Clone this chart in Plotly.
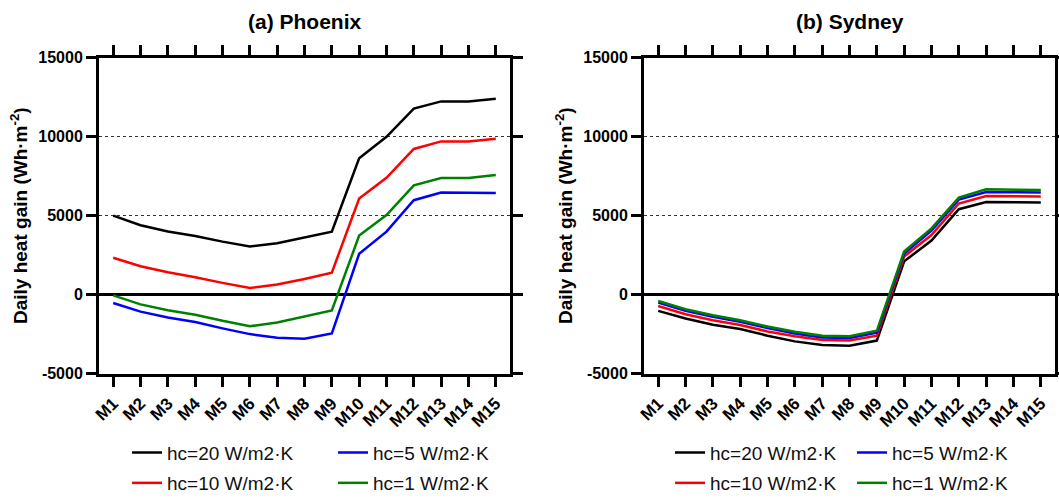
import plotly.graph_objects as go

W, H = 1059, 502

months = ["M1", "M2", "M3", "M4", "M5", "M6", "M7", "M8", "M9", "M10", "M11", "M12", "M13", "M14", "M15"]

series_names = ["hc=20 W/m2·K", "hc=10 W/m2·K", "hc=5 W/m2·K", "hc=1 W/m2·K"]
series_colors = ["#000000", "#ff0000", "#0000ff", "#008000"]

phoenix_hc20 = [5000, 4400, 4000, 3720, 3360, 3050, 3260, 3620, 3990, 8630, 9990, 11770, 12230, 12230, 12390]
phoenix_hc10 = [2340, 1800, 1420, 1110, 750, 420, 650, 1000, 1400, 6080, 7400, 9220, 9700, 9700, 9860]
phoenix_hc5 = [-520, -1070, -1440, -1730, -2130, -2490, -2720, -2780, -2450, 2590, 3990, 5980, 6460, 6460, 6440]
phoenix_hc1 = [-40, -610, -980, -1270, -1650, -1990, -1760, -1400, -1000, 3740, 5040, 6920, 7380, 7380, 7570]

sydney_hc20 = [-1020, -1500, -1900, -2170, -2590, -2950, -3180, -3220, -2900, 2110, 3430, 5410, 5870, 5870, 5830]
sydney_hc10 = [-710, -1230, -1610, -1920, -2320, -2630, -2860, -2900, -2590, 2420, 3780, 5770, 6250, 6250, 6210]
sydney_hc5 = [-500, -1020, -1400, -1710, -2110, -2450, -2700, -2740, -2400, 2610, 4050, 6020, 6500, 6500, 6460]
sydney_hc1 = [-400, -920, -1300, -1610, -2010, -2340, -2590, -2630, -2280, 2740, 4200, 6140, 6670, 6670, 6630]

y_tickvals = [-5000, 0, 5000, 10000, 15000]
y_ticktext = ["-5000", "0", "5000", "10000", "15000"]

panel_titles = ["<b>(a) Phoenix</b>", "<b>(b) Sydney</b>"]
y_title = "<b>Daily heat gain (Wh·m<sup>-2</sup>)</b>"

FONT = "Liberation Sans, Arial, sans-serif"

phoenix = [phoenix_hc20, phoenix_hc10, phoenix_hc5, phoenix_hc1]
sydney = [sydney_hc20, sydney_hc10, sydney_hc5, sydney_hc1]

# layout geometry (pixels)
panels_px = [(99, 510), (644, 1055)]
top_px, bot_px = 58.3, 378.3

fig = go.Figure()

# legend placement: (panel, series) -> (text start x px, y center px)
leg_pos = {
    (0, 0): (167, 458), (0, 2): (373, 458), (0, 1): (167, 489), (0, 3): (373, 489),
    (1, 0): (710, 458), (1, 2): (892, 458), (1, 1): (710, 489), (1, 3): (892, 489),
}

layout_legends = {}
k = 0
for p, data in enumerate([phoenix, sydney]):
    xa = "x" if p == 0 else "x2"
    ya = "y" if p == 0 else "y2"
    for s in range(4):
        k += 1
        lname = "legend" if k == 1 else f"legend{k}"
        fig.add_trace(go.Scatter(
            x=months, y=data[s], mode="lines", name=series_names[s],
            line=dict(color=series_colors[s], width=2.5),
            xaxis=xa, yaxis=ya, legend=lname, showlegend=True,
        ))
        tx, ty = leg_pos[(p, s)]
        layout_legends[lname] = dict(
            x=(tx - 40) / W, y=1 - ty / H, xanchor="left", yanchor="middle",
            orientation="h", bgcolor="rgba(0,0,0,0)", borderwidth=0,
            font=dict(family=FONT, size=19, color="#111111"),
            itemwidth=30, tracegroupgap=0,
        )

axis_common_x = dict(
    type="category", range=[-0.52, 14.52], showline=True, linewidth=3, linecolor="black",
    mirror="allticks", ticks="outside", ticklen=10, tickwidth=3, tickcolor="black",
    tickangle=-45, tickfont=dict(family=FONT, size=17, color="black", weight="bold"),
    showgrid=False, zeroline=False, automargin=False,
)
axis_common_y = dict(
    range=[-5000, 15000], tickvals=y_tickvals, ticktext=y_ticktext,
    showline=True, linewidth=3, linecolor="black",
    mirror="allticks", ticks="outside", ticklen=10, tickwidth=3, tickcolor="black",
    tickfont=dict(family=FONT, size=16, color="black", weight="bold"),
    showgrid=True, gridcolor="#333333", gridwidth=1, griddash="dot",
    zeroline=True, zerolinecolor="black", zerolinewidth=3,
    title=dict(text=y_title, font=dict(family=FONT, size=19, color="black"), standoff=6),
    automargin=False,
)

ydom = [1 - bot_px / H, 1 - top_px / H]

fig.update_layout(
    width=W, height=H, margin=dict(l=0, r=0, t=0, b=0),
    paper_bgcolor="white", plot_bgcolor="white",
    font=dict(family=FONT, color="black"),
    xaxis=dict(domain=[panels_px[0][0] / W, panels_px[0][1] / W], anchor="y", **axis_common_x),
    xaxis2=dict(domain=[panels_px[1][0] / W, panels_px[1][1] / W], anchor="y2", **axis_common_x),
    yaxis=dict(domain=ydom, anchor="x", **axis_common_y),
    yaxis2=dict(domain=ydom, anchor="x2", **axis_common_y),
    annotations=[
        dict(text=panel_titles[i], x=(panels_px[i][0] + panels_px[i][1]) / 2 / W, y=1 - 22 / H,
             xref="paper", yref="paper", xanchor="center", yanchor="middle", showarrow=False,
             font=dict(family=FONT, size=21, color="black"))
        for i in range(2)
    ],
    **layout_legends,
)

fig.write_html("out.html")
